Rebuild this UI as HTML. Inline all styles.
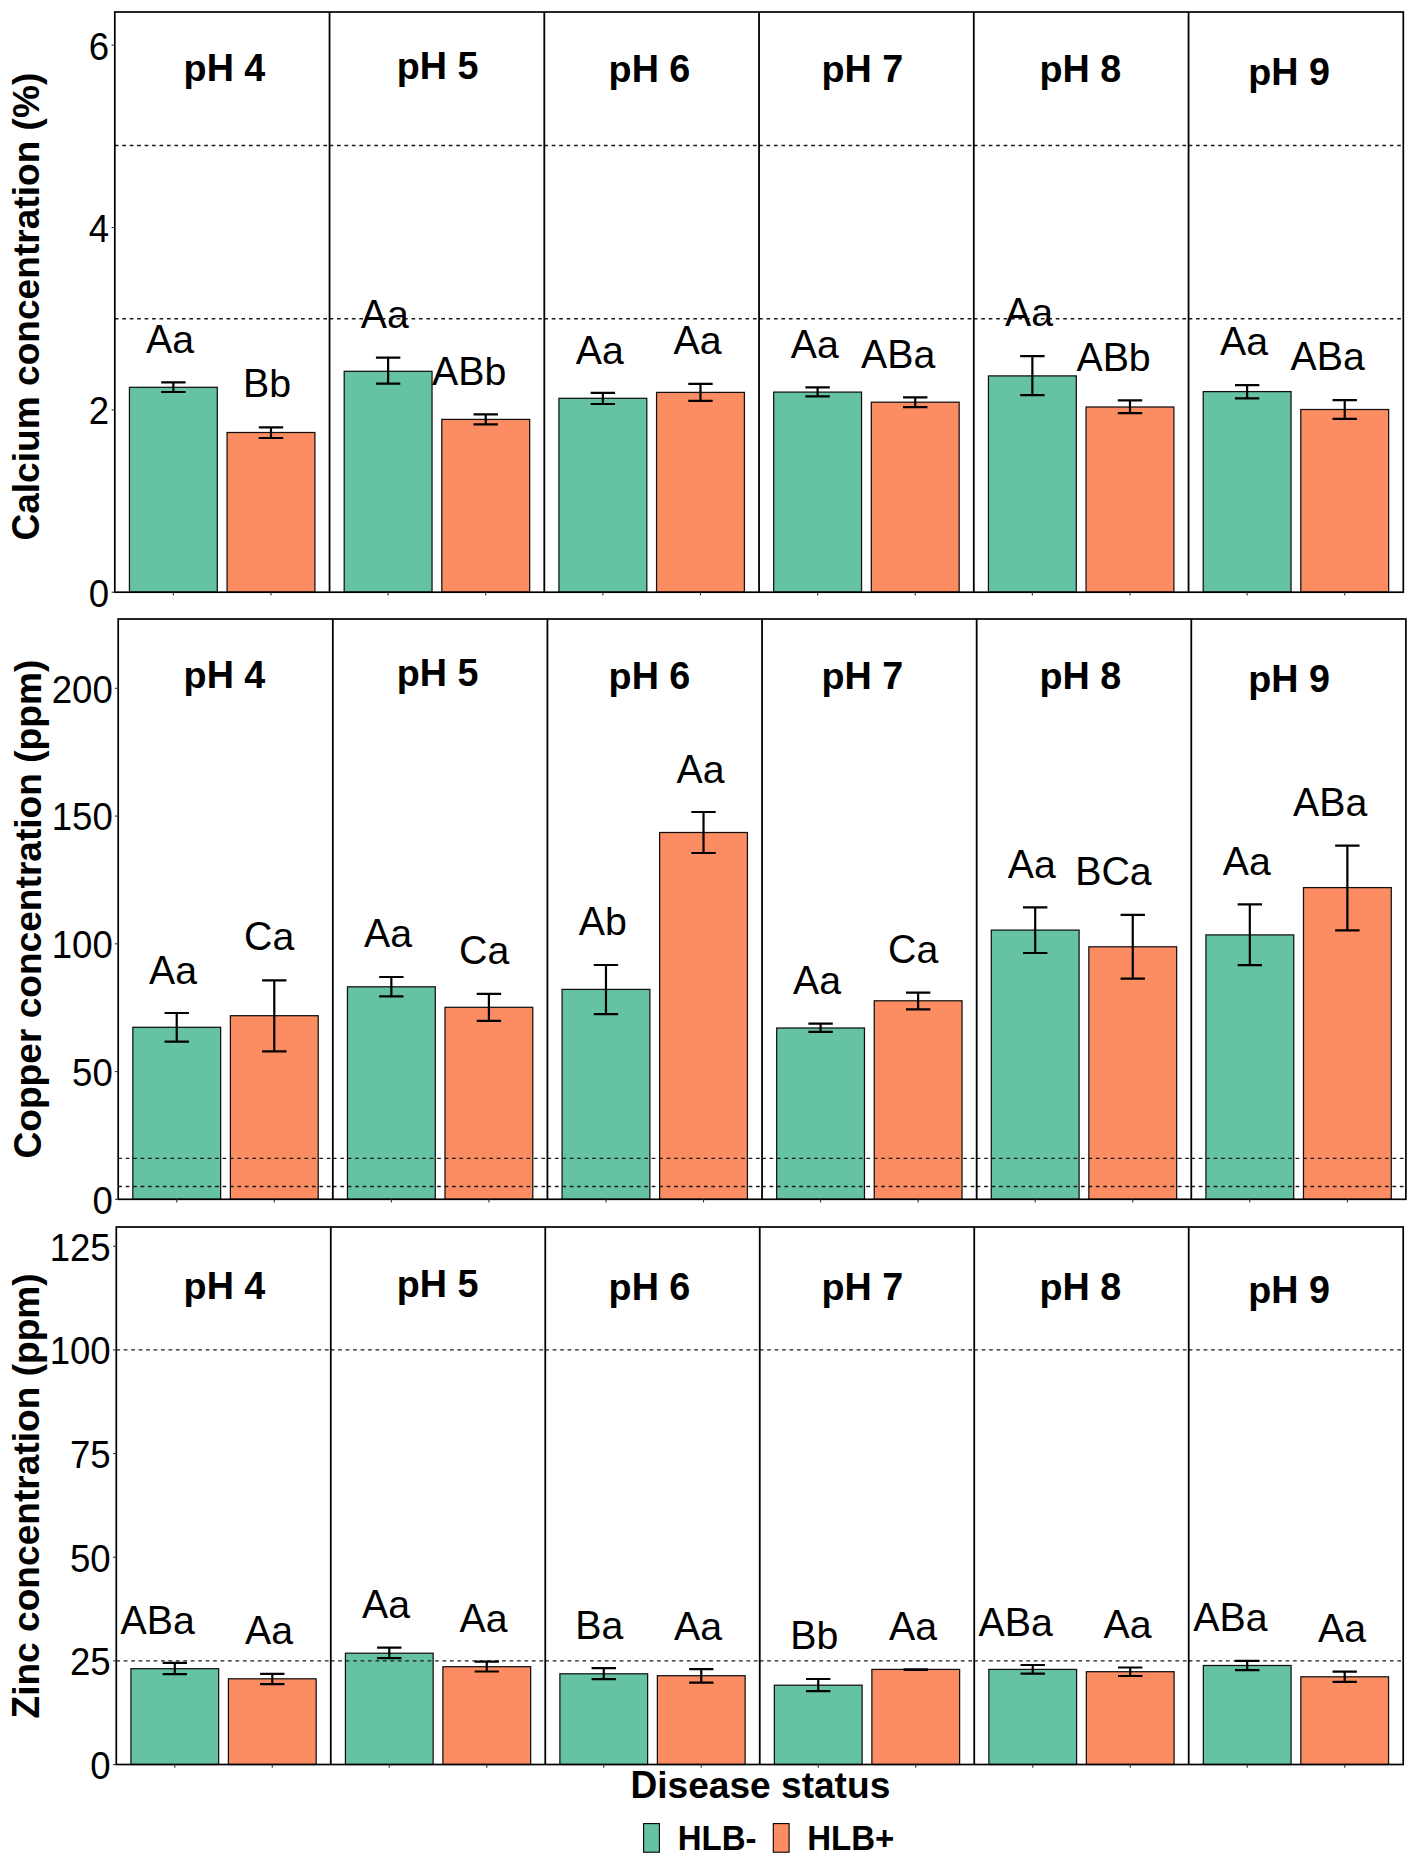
<!DOCTYPE html><html><head><meta charset="utf-8"><style>html,body{margin:0;padding:0;background:#fff;}svg{display:block;}text{font-family:"Liberation Sans",sans-serif;}</style></head><body>
<svg width="1417" height="1868" viewBox="0 0 1417 1868">
<rect width="1417" height="1868" fill="#fff"/>
<rect x="129.44" y="387.3" width="87.85" height="204.9" fill="#66C2A5" stroke="#111" stroke-width="1.25"/>
<rect x="227.06" y="432.5" width="87.85" height="159.7" fill="#FC8D62" stroke="#111" stroke-width="1.25"/>
<rect x="344.19" y="371.3" width="87.85" height="220.9" fill="#66C2A5" stroke="#111" stroke-width="1.25"/>
<rect x="441.81" y="419.4" width="87.85" height="172.8" fill="#FC8D62" stroke="#111" stroke-width="1.25"/>
<rect x="558.94" y="398.3" width="87.85" height="193.9" fill="#66C2A5" stroke="#111" stroke-width="1.25"/>
<rect x="656.56" y="392.4" width="87.85" height="199.8" fill="#FC8D62" stroke="#111" stroke-width="1.25"/>
<rect x="773.69" y="392.1" width="87.85" height="200.1" fill="#66C2A5" stroke="#111" stroke-width="1.25"/>
<rect x="871.31" y="402.2" width="87.85" height="190" fill="#FC8D62" stroke="#111" stroke-width="1.25"/>
<rect x="988.44" y="375.9" width="87.85" height="216.3" fill="#66C2A5" stroke="#111" stroke-width="1.25"/>
<rect x="1086.06" y="407" width="87.85" height="185.2" fill="#FC8D62" stroke="#111" stroke-width="1.25"/>
<rect x="1203.19" y="391.6" width="87.85" height="200.6" fill="#66C2A5" stroke="#111" stroke-width="1.25"/>
<rect x="1300.81" y="409.5" width="87.85" height="182.7" fill="#FC8D62" stroke="#111" stroke-width="1.25"/>
<line x1="114.8" y1="318.69" x2="329.55" y2="318.69" stroke="#1a1a1a" stroke-width="1.4" stroke-dasharray="3.7 3.75"/>
<line x1="329.55" y1="318.69" x2="544.3" y2="318.69" stroke="#1a1a1a" stroke-width="1.4" stroke-dasharray="3.7 3.75"/>
<line x1="544.3" y1="318.69" x2="759.05" y2="318.69" stroke="#1a1a1a" stroke-width="1.4" stroke-dasharray="3.7 3.75"/>
<line x1="759.05" y1="318.69" x2="973.8" y2="318.69" stroke="#1a1a1a" stroke-width="1.4" stroke-dasharray="3.7 3.75"/>
<line x1="973.8" y1="318.69" x2="1188.55" y2="318.69" stroke="#1a1a1a" stroke-width="1.4" stroke-dasharray="3.7 3.75"/>
<line x1="1188.55" y1="318.69" x2="1403.3" y2="318.69" stroke="#1a1a1a" stroke-width="1.4" stroke-dasharray="3.7 3.75"/>
<line x1="114.8" y1="145.47" x2="329.55" y2="145.47" stroke="#1a1a1a" stroke-width="1.4" stroke-dasharray="3.7 3.75"/>
<line x1="329.55" y1="145.47" x2="544.3" y2="145.47" stroke="#1a1a1a" stroke-width="1.4" stroke-dasharray="3.7 3.75"/>
<line x1="544.3" y1="145.47" x2="759.05" y2="145.47" stroke="#1a1a1a" stroke-width="1.4" stroke-dasharray="3.7 3.75"/>
<line x1="759.05" y1="145.47" x2="973.8" y2="145.47" stroke="#1a1a1a" stroke-width="1.4" stroke-dasharray="3.7 3.75"/>
<line x1="973.8" y1="145.47" x2="1188.55" y2="145.47" stroke="#1a1a1a" stroke-width="1.4" stroke-dasharray="3.7 3.75"/>
<line x1="1188.55" y1="145.47" x2="1403.3" y2="145.47" stroke="#1a1a1a" stroke-width="1.4" stroke-dasharray="3.7 3.75"/>
<path d="M161.17 382.4H185.57M161.17 392H185.57M173.37 382.4V392" stroke="#000" stroke-width="2.2" fill="none"/>
<path d="M258.78 427.4H283.18M258.78 438H283.18M270.98 427.4V438" stroke="#000" stroke-width="2.2" fill="none"/>
<path d="M375.92 357.6H400.32M375.92 383.7H400.32M388.12 357.6V383.7" stroke="#000" stroke-width="2.2" fill="none"/>
<path d="M473.53 414.3H497.93M473.53 424.4H497.93M485.73 414.3V424.4" stroke="#000" stroke-width="2.2" fill="none"/>
<path d="M590.67 392.8H615.07M590.67 404H615.07M602.87 392.8V404" stroke="#000" stroke-width="2.2" fill="none"/>
<path d="M688.28 383.8H712.68M688.28 400.9H712.68M700.48 383.8V400.9" stroke="#000" stroke-width="2.2" fill="none"/>
<path d="M805.42 387.4H829.82M805.42 396.3H829.82M817.62 387.4V396.3" stroke="#000" stroke-width="2.2" fill="none"/>
<path d="M903.03 397.3H927.43M903.03 407.1H927.43M915.23 397.3V407.1" stroke="#000" stroke-width="2.2" fill="none"/>
<path d="M1020.17 356.1H1044.57M1020.17 395.2H1044.57M1032.37 356.1V395.2" stroke="#000" stroke-width="2.2" fill="none"/>
<path d="M1117.78 400.3H1142.18M1117.78 413.1H1142.18M1129.98 400.3V413.1" stroke="#000" stroke-width="2.2" fill="none"/>
<path d="M1234.92 385.1H1259.32M1234.92 398.3H1259.32M1247.12 385.1V398.3" stroke="#000" stroke-width="2.2" fill="none"/>
<path d="M1332.53 400.1H1356.93M1332.53 418.8H1356.93M1344.73 400.1V418.8" stroke="#000" stroke-width="2.2" fill="none"/>
<rect x="114.8" y="12" width="1288.5" height="580.2" fill="none" stroke="#000" stroke-width="1.7"/>
<line x1="329.55" y1="12" x2="329.55" y2="592.2" stroke="#000" stroke-width="1.8"/>
<line x1="544.3" y1="12" x2="544.3" y2="592.2" stroke="#000" stroke-width="1.8"/>
<line x1="759.05" y1="12" x2="759.05" y2="592.2" stroke="#000" stroke-width="1.8"/>
<line x1="973.8" y1="12" x2="973.8" y2="592.2" stroke="#000" stroke-width="1.8"/>
<line x1="1188.55" y1="12" x2="1188.55" y2="592.2" stroke="#000" stroke-width="1.8"/>
<line x1="111.6" y1="592.2" x2="114.8" y2="592.2" stroke="#333" stroke-width="1.1"/>
<line x1="111.6" y1="409.86" x2="114.8" y2="409.86" stroke="#333" stroke-width="1.1"/>
<line x1="111.6" y1="227.52" x2="114.8" y2="227.52" stroke="#333" stroke-width="1.1"/>
<line x1="111.6" y1="45.18" x2="114.8" y2="45.18" stroke="#333" stroke-width="1.1"/>
<line x1="173.37" y1="592.2" x2="173.37" y2="595.4" stroke="#333" stroke-width="1.1"/>
<line x1="270.98" y1="592.2" x2="270.98" y2="595.4" stroke="#333" stroke-width="1.1"/>
<line x1="388.12" y1="592.2" x2="388.12" y2="595.4" stroke="#333" stroke-width="1.1"/>
<line x1="485.73" y1="592.2" x2="485.73" y2="595.4" stroke="#333" stroke-width="1.1"/>
<line x1="602.87" y1="592.2" x2="602.87" y2="595.4" stroke="#333" stroke-width="1.1"/>
<line x1="700.48" y1="592.2" x2="700.48" y2="595.4" stroke="#333" stroke-width="1.1"/>
<line x1="817.62" y1="592.2" x2="817.62" y2="595.4" stroke="#333" stroke-width="1.1"/>
<line x1="915.23" y1="592.2" x2="915.23" y2="595.4" stroke="#333" stroke-width="1.1"/>
<line x1="1032.37" y1="592.2" x2="1032.37" y2="595.4" stroke="#333" stroke-width="1.1"/>
<line x1="1129.98" y1="592.2" x2="1129.98" y2="595.4" stroke="#333" stroke-width="1.1"/>
<line x1="1247.12" y1="592.2" x2="1247.12" y2="595.4" stroke="#333" stroke-width="1.1"/>
<line x1="1344.73" y1="592.2" x2="1344.73" y2="595.4" stroke="#333" stroke-width="1.1"/>
<g fill="#000">
<g transform="translate(88.64 606.6)" font-size="36.6"><text transform="translate(0 0) scale(1 1.04)">0</text></g>
<g transform="translate(88.64 424.26)" font-size="36.6"><text transform="translate(0 0) scale(1 1.04)">2</text></g>
<g transform="translate(88.64 241.92)" font-size="36.6"><text transform="translate(0 0) scale(1 1.04)">4</text></g>
<g transform="translate(88.64 59.58)" font-size="36.6"><text transform="translate(0 0) scale(1 1.04)">6</text></g>
</g>
<g font-size="37.7" font-weight="bold" fill="#000">
<g transform="translate(183.61 81.1)" font-size="37.7" font-weight="bold"><text transform="translate(0 0) scale(1 0.98)">p</text><text transform="translate(23.03 0) scale(1 1.04)">H</text><text transform="translate(60.73 0) scale(1 1.04)">4</text></g>
<g transform="translate(396.81 79.2)" font-size="37.7" font-weight="bold"><text transform="translate(0 0) scale(1 0.98)">p</text><text transform="translate(23.03 0) scale(1 1.04)">H</text><text transform="translate(60.73 0) scale(1 1.04)">5</text></g>
<g transform="translate(608.61 82.3)" font-size="37.7" font-weight="bold"><text transform="translate(0 0) scale(1 0.98)">p</text><text transform="translate(23.03 0) scale(1 1.04)">H</text><text transform="translate(60.73 0) scale(1 1.04)">6</text></g>
<g transform="translate(821.51 82.3)" font-size="37.7" font-weight="bold"><text transform="translate(0 0) scale(1 0.98)">p</text><text transform="translate(23.03 0) scale(1 1.04)">H</text><text transform="translate(60.73 0) scale(1 1.04)">7</text></g>
<g transform="translate(1039.41 82.3)" font-size="37.7" font-weight="bold"><text transform="translate(0 0) scale(1 0.98)">p</text><text transform="translate(23.03 0) scale(1 1.04)">H</text><text transform="translate(60.73 0) scale(1 1.04)">8</text></g>
<g transform="translate(1248.21 85.2)" font-size="37.7" font-weight="bold"><text transform="translate(0 0) scale(1 0.98)">p</text><text transform="translate(23.03 0) scale(1 1.04)">H</text><text transform="translate(60.73 0) scale(1 1.04)">9</text></g>
</g>
<g font-size="39.3" fill="#000">
<g transform="translate(146.02 352.7)" font-size="39.3"><text transform="translate(0 0) scale(1 1.04)">A</text><text transform="translate(26.21 0) scale(1 0.98)">a</text></g>
<g transform="translate(242.98 397.2)" font-size="39.3"><text transform="translate(0 0) scale(1 1.04)">B</text><text transform="translate(26.21 0) scale(1 0.99)">b</text></g>
<g transform="translate(360.72 327.9)" font-size="39.3"><text transform="translate(0 0) scale(1 1.04)">A</text><text transform="translate(26.21 0) scale(1 0.98)">a</text></g>
<g transform="translate(432.12 385.4)" font-size="39.3"><text transform="translate(0 0) scale(1 1.04)">A</text><text transform="translate(26.21 0) scale(1 1.04)">B</text><text transform="translate(52.43 0) scale(1 0.99)">b</text></g>
<g transform="translate(575.72 363.5)" font-size="39.3"><text transform="translate(0 0) scale(1 1.04)">A</text><text transform="translate(26.21 0) scale(1 0.98)">a</text></g>
<g transform="translate(673.52 354.1)" font-size="39.3"><text transform="translate(0 0) scale(1 1.04)">A</text><text transform="translate(26.21 0) scale(1 0.98)">a</text></g>
<g transform="translate(790.72 358)" font-size="39.3"><text transform="translate(0 0) scale(1 1.04)">A</text><text transform="translate(26.21 0) scale(1 0.98)">a</text></g>
<g transform="translate(861.12 367.8)" font-size="39.3"><text transform="translate(0 0) scale(1 1.04)">A</text><text transform="translate(26.21 0) scale(1 1.04)">B</text><text transform="translate(52.43 0) scale(1 0.98)">a</text></g>
<g transform="translate(1005.02 326.4)" font-size="39.3"><text transform="translate(0 0) scale(1 1.04)">A</text><text transform="translate(26.21 0) scale(1 0.98)">a</text></g>
<g transform="translate(1076.42 370.6)" font-size="39.3"><text transform="translate(0 0) scale(1 1.04)">A</text><text transform="translate(26.21 0) scale(1 1.04)">B</text><text transform="translate(52.43 0) scale(1 0.99)">b</text></g>
<g transform="translate(1219.92 355.4)" font-size="39.3"><text transform="translate(0 0) scale(1 1.04)">A</text><text transform="translate(26.21 0) scale(1 0.98)">a</text></g>
<g transform="translate(1290.62 370.4)" font-size="39.3"><text transform="translate(0 0) scale(1 1.04)">A</text><text transform="translate(26.21 0) scale(1 1.04)">B</text><text transform="translate(52.43 0) scale(1 0.98)">a</text></g>
</g>
<g transform="translate(38.6 540.62) rotate(-90)" font-size="37.1" font-weight="bold"><text transform="translate(0 0) scale(1 1.04)">C</text><text transform="translate(26.79 0) scale(1 0.98)">a</text><text transform="translate(47.43 0) scale(1 0.99)">l</text><text transform="translate(57.73 0) scale(1 0.98)">c</text><text transform="translate(78.37 0) scale(1 0.98)">i</text><text transform="translate(88.67 0) scale(1 0.98)">u</text><text transform="translate(111.34 0) scale(1 0.98)">m</text><text transform="translate(154.63 0) scale(1 0.98)">c</text><text transform="translate(175.26 0) scale(1 0.98)">o</text><text transform="translate(197.93 0) scale(1 0.98)">n</text><text transform="translate(220.59 0) scale(1 0.98)">c</text><text transform="translate(241.22 0) scale(1 0.98)">e</text><text transform="translate(261.86 0) scale(1 0.98)">n</text><text transform="translate(284.52 0) scale(1 0.99)">t</text><text transform="translate(296.87 0) scale(1 0.98)">r</text><text transform="translate(311.31 0) scale(1 0.98)">a</text><text transform="translate(331.94 0) scale(1 0.99)">t</text><text transform="translate(344.3 0) scale(1 0.98)">i</text><text transform="translate(354.61 0) scale(1 0.98)">o</text><text transform="translate(377.27 0) scale(1 0.98)">n</text><text transform="translate(410.24 0) scale(1 1.0)">(</text><text transform="translate(422.59 0) scale(1 1.0)">%</text><text transform="translate(455.58 0) scale(1 1.0)">)</text></g>
<rect x="132.83" y="1027.3" width="87.8" height="172" fill="#66C2A5" stroke="#111" stroke-width="1.25"/>
<rect x="230.39" y="1015.7" width="87.8" height="183.6" fill="#FC8D62" stroke="#111" stroke-width="1.25"/>
<rect x="347.45" y="986.8" width="87.8" height="212.5" fill="#66C2A5" stroke="#111" stroke-width="1.25"/>
<rect x="445" y="1007.3" width="87.8" height="192" fill="#FC8D62" stroke="#111" stroke-width="1.25"/>
<rect x="562.07" y="989.4" width="87.8" height="209.9" fill="#66C2A5" stroke="#111" stroke-width="1.25"/>
<rect x="659.62" y="832.5" width="87.8" height="366.8" fill="#FC8D62" stroke="#111" stroke-width="1.25"/>
<rect x="776.68" y="1028" width="87.8" height="171.3" fill="#66C2A5" stroke="#111" stroke-width="1.25"/>
<rect x="874.24" y="1000.8" width="87.8" height="198.5" fill="#FC8D62" stroke="#111" stroke-width="1.25"/>
<rect x="991.3" y="930.1" width="87.8" height="269.2" fill="#66C2A5" stroke="#111" stroke-width="1.25"/>
<rect x="1088.85" y="946.8" width="87.8" height="252.5" fill="#FC8D62" stroke="#111" stroke-width="1.25"/>
<rect x="1205.92" y="934.9" width="87.8" height="264.4" fill="#66C2A5" stroke="#111" stroke-width="1.25"/>
<rect x="1303.47" y="887.6" width="87.8" height="311.7" fill="#FC8D62" stroke="#111" stroke-width="1.25"/>
<line x1="118.2" y1="1186.52" x2="332.82" y2="1186.52" stroke="#1a1a1a" stroke-width="1.4" stroke-dasharray="3.7 3.75"/>
<line x1="332.82" y1="1186.52" x2="547.43" y2="1186.52" stroke="#1a1a1a" stroke-width="1.4" stroke-dasharray="3.7 3.75"/>
<line x1="547.43" y1="1186.52" x2="762.05" y2="1186.52" stroke="#1a1a1a" stroke-width="1.4" stroke-dasharray="3.7 3.75"/>
<line x1="762.05" y1="1186.52" x2="976.67" y2="1186.52" stroke="#1a1a1a" stroke-width="1.4" stroke-dasharray="3.7 3.75"/>
<line x1="976.67" y1="1186.52" x2="1191.28" y2="1186.52" stroke="#1a1a1a" stroke-width="1.4" stroke-dasharray="3.7 3.75"/>
<line x1="1191.28" y1="1186.52" x2="1405.9" y2="1186.52" stroke="#1a1a1a" stroke-width="1.4" stroke-dasharray="3.7 3.75"/>
<line x1="118.2" y1="1158.42" x2="332.82" y2="1158.42" stroke="#1a1a1a" stroke-width="1.4" stroke-dasharray="3.7 3.75"/>
<line x1="332.82" y1="1158.42" x2="547.43" y2="1158.42" stroke="#1a1a1a" stroke-width="1.4" stroke-dasharray="3.7 3.75"/>
<line x1="547.43" y1="1158.42" x2="762.05" y2="1158.42" stroke="#1a1a1a" stroke-width="1.4" stroke-dasharray="3.7 3.75"/>
<line x1="762.05" y1="1158.42" x2="976.67" y2="1158.42" stroke="#1a1a1a" stroke-width="1.4" stroke-dasharray="3.7 3.75"/>
<line x1="976.67" y1="1158.42" x2="1191.28" y2="1158.42" stroke="#1a1a1a" stroke-width="1.4" stroke-dasharray="3.7 3.75"/>
<line x1="1191.28" y1="1158.42" x2="1405.9" y2="1158.42" stroke="#1a1a1a" stroke-width="1.4" stroke-dasharray="3.7 3.75"/>
<path d="M164.54 1013H188.93M164.54 1041.6H188.93M176.73 1013V1041.6" stroke="#000" stroke-width="2.2" fill="none"/>
<path d="M262.09 980.3H286.48M262.09 1051.4H286.48M274.28 980.3V1051.4" stroke="#000" stroke-width="2.2" fill="none"/>
<path d="M379.15 977H403.54M379.15 996.4H403.54M391.35 977V996.4" stroke="#000" stroke-width="2.2" fill="none"/>
<path d="M476.71 993.8H501.1M476.71 1020.8H501.1M488.9 993.8V1020.8" stroke="#000" stroke-width="2.2" fill="none"/>
<path d="M593.77 965H618.16M593.77 1014.2H618.16M605.97 965V1014.2" stroke="#000" stroke-width="2.2" fill="none"/>
<path d="M691.32 812H715.71M691.32 853H715.71M703.52 812V853" stroke="#000" stroke-width="2.2" fill="none"/>
<path d="M808.39 1023.6H832.78M808.39 1031.9H832.78M820.58 1023.6V1031.9" stroke="#000" stroke-width="2.2" fill="none"/>
<path d="M905.94 992.6H930.33M905.94 1009.4H930.33M918.13 992.6V1009.4" stroke="#000" stroke-width="2.2" fill="none"/>
<path d="M1023 907.3H1047.39M1023 953H1047.39M1035.2 907.3V953" stroke="#000" stroke-width="2.2" fill="none"/>
<path d="M1120.56 914.9H1144.95M1120.56 978.7H1144.95M1132.75 914.9V978.7" stroke="#000" stroke-width="2.2" fill="none"/>
<path d="M1237.62 904.4H1262.01M1237.62 965.2H1262.01M1249.82 904.4V965.2" stroke="#000" stroke-width="2.2" fill="none"/>
<path d="M1335.17 845.7H1359.56M1335.17 930.3H1359.56M1347.37 845.7V930.3" stroke="#000" stroke-width="2.2" fill="none"/>
<rect x="118.2" y="619" width="1287.7" height="580.3" fill="none" stroke="#000" stroke-width="1.7"/>
<line x1="332.82" y1="619" x2="332.82" y2="1199.3" stroke="#000" stroke-width="1.8"/>
<line x1="547.43" y1="619" x2="547.43" y2="1199.3" stroke="#000" stroke-width="1.8"/>
<line x1="762.05" y1="619" x2="762.05" y2="1199.3" stroke="#000" stroke-width="1.8"/>
<line x1="976.67" y1="619" x2="976.67" y2="1199.3" stroke="#000" stroke-width="1.8"/>
<line x1="1191.28" y1="619" x2="1191.28" y2="1199.3" stroke="#000" stroke-width="1.8"/>
<line x1="115" y1="1199.3" x2="118.2" y2="1199.3" stroke="#333" stroke-width="1.1"/>
<line x1="115" y1="1071.55" x2="118.2" y2="1071.55" stroke="#333" stroke-width="1.1"/>
<line x1="115" y1="943.8" x2="118.2" y2="943.8" stroke="#333" stroke-width="1.1"/>
<line x1="115" y1="816.05" x2="118.2" y2="816.05" stroke="#333" stroke-width="1.1"/>
<line x1="115" y1="688.3" x2="118.2" y2="688.3" stroke="#333" stroke-width="1.1"/>
<line x1="176.73" y1="1199.3" x2="176.73" y2="1202.5" stroke="#333" stroke-width="1.1"/>
<line x1="274.28" y1="1199.3" x2="274.28" y2="1202.5" stroke="#333" stroke-width="1.1"/>
<line x1="391.35" y1="1199.3" x2="391.35" y2="1202.5" stroke="#333" stroke-width="1.1"/>
<line x1="488.9" y1="1199.3" x2="488.9" y2="1202.5" stroke="#333" stroke-width="1.1"/>
<line x1="605.97" y1="1199.3" x2="605.97" y2="1202.5" stroke="#333" stroke-width="1.1"/>
<line x1="703.52" y1="1199.3" x2="703.52" y2="1202.5" stroke="#333" stroke-width="1.1"/>
<line x1="820.58" y1="1199.3" x2="820.58" y2="1202.5" stroke="#333" stroke-width="1.1"/>
<line x1="918.13" y1="1199.3" x2="918.13" y2="1202.5" stroke="#333" stroke-width="1.1"/>
<line x1="1035.2" y1="1199.3" x2="1035.2" y2="1202.5" stroke="#333" stroke-width="1.1"/>
<line x1="1132.75" y1="1199.3" x2="1132.75" y2="1202.5" stroke="#333" stroke-width="1.1"/>
<line x1="1249.82" y1="1199.3" x2="1249.82" y2="1202.5" stroke="#333" stroke-width="1.1"/>
<line x1="1347.37" y1="1199.3" x2="1347.37" y2="1202.5" stroke="#333" stroke-width="1.1"/>
<g fill="#000">
<g transform="translate(92.44 1213.7)" font-size="36.6"><text transform="translate(0 0) scale(1 1.04)">0</text></g>
<g transform="translate(72.09 1085.95)" font-size="36.6"><text transform="translate(0 0) scale(1 1.04)">5</text><text transform="translate(20.36 0) scale(1 1.04)">0</text></g>
<g transform="translate(51.73 958.2)" font-size="36.6"><text transform="translate(0 0) scale(1 1.04)">1</text><text transform="translate(20.36 0) scale(1 1.04)">0</text><text transform="translate(40.71 0) scale(1 1.04)">0</text></g>
<g transform="translate(51.73 830.45)" font-size="36.6"><text transform="translate(0 0) scale(1 1.04)">1</text><text transform="translate(20.36 0) scale(1 1.04)">5</text><text transform="translate(40.71 0) scale(1 1.04)">0</text></g>
<g transform="translate(51.73 702.7)" font-size="36.6"><text transform="translate(0 0) scale(1 1.04)">2</text><text transform="translate(20.36 0) scale(1 1.04)">0</text><text transform="translate(40.71 0) scale(1 1.04)">0</text></g>
</g>
<g font-size="37.7" font-weight="bold" fill="#000">
<g transform="translate(183.61 687.8)" font-size="37.7" font-weight="bold"><text transform="translate(0 0) scale(1 0.98)">p</text><text transform="translate(23.03 0) scale(1 1.04)">H</text><text transform="translate(60.73 0) scale(1 1.04)">4</text></g>
<g transform="translate(396.81 686)" font-size="37.7" font-weight="bold"><text transform="translate(0 0) scale(1 0.98)">p</text><text transform="translate(23.03 0) scale(1 1.04)">H</text><text transform="translate(60.73 0) scale(1 1.04)">5</text></g>
<g transform="translate(608.61 689)" font-size="37.7" font-weight="bold"><text transform="translate(0 0) scale(1 0.98)">p</text><text transform="translate(23.03 0) scale(1 1.04)">H</text><text transform="translate(60.73 0) scale(1 1.04)">6</text></g>
<g transform="translate(821.51 689)" font-size="37.7" font-weight="bold"><text transform="translate(0 0) scale(1 0.98)">p</text><text transform="translate(23.03 0) scale(1 1.04)">H</text><text transform="translate(60.73 0) scale(1 1.04)">7</text></g>
<g transform="translate(1039.41 689)" font-size="37.7" font-weight="bold"><text transform="translate(0 0) scale(1 0.98)">p</text><text transform="translate(23.03 0) scale(1 1.04)">H</text><text transform="translate(60.73 0) scale(1 1.04)">8</text></g>
<g transform="translate(1248.21 691.5)" font-size="37.7" font-weight="bold"><text transform="translate(0 0) scale(1 0.98)">p</text><text transform="translate(23.03 0) scale(1 1.04)">H</text><text transform="translate(60.73 0) scale(1 1.04)">9</text></g>
</g>
<g font-size="39.3" fill="#000">
<g transform="translate(148.92 983.6)" font-size="39.3"><text transform="translate(0 0) scale(1 1.04)">A</text><text transform="translate(26.21 0) scale(1 0.98)">a</text></g>
<g transform="translate(244.1 950.3)" font-size="39.3"><text transform="translate(0 0) scale(1 1.04)">C</text><text transform="translate(28.38 0) scale(1 0.98)">a</text></g>
<g transform="translate(363.92 947.3)" font-size="39.3"><text transform="translate(0 0) scale(1 1.04)">A</text><text transform="translate(26.21 0) scale(1 0.98)">a</text></g>
<g transform="translate(459.1 963.9)" font-size="39.3"><text transform="translate(0 0) scale(1 1.04)">C</text><text transform="translate(28.38 0) scale(1 0.98)">a</text></g>
<g transform="translate(578.72 935.1)" font-size="39.3"><text transform="translate(0 0) scale(1 1.04)">A</text><text transform="translate(26.21 0) scale(1 0.99)">b</text></g>
<g transform="translate(676.52 782.6)" font-size="39.3"><text transform="translate(0 0) scale(1 1.04)">A</text><text transform="translate(26.21 0) scale(1 0.98)">a</text></g>
<g transform="translate(792.92 994.4)" font-size="39.3"><text transform="translate(0 0) scale(1 1.04)">A</text><text transform="translate(26.21 0) scale(1 0.98)">a</text></g>
<g transform="translate(888.1 963.4)" font-size="39.3"><text transform="translate(0 0) scale(1 1.04)">C</text><text transform="translate(28.38 0) scale(1 0.98)">a</text></g>
<g transform="translate(1007.72 877.9)" font-size="39.3"><text transform="translate(0 0) scale(1 1.04)">A</text><text transform="translate(26.21 0) scale(1 0.98)">a</text></g>
<g transform="translate(1075.28 884.9)" font-size="39.3"><text transform="translate(0 0) scale(1 1.04)">B</text><text transform="translate(26.21 0) scale(1 1.04)">C</text><text transform="translate(54.59 0) scale(1 0.98)">a</text></g>
<g transform="translate(1222.72 874.5)" font-size="39.3"><text transform="translate(0 0) scale(1 1.04)">A</text><text transform="translate(26.21 0) scale(1 0.98)">a</text></g>
<g transform="translate(1293.12 816.3)" font-size="39.3"><text transform="translate(0 0) scale(1 1.04)">A</text><text transform="translate(26.21 0) scale(1 1.04)">B</text><text transform="translate(52.43 0) scale(1 0.98)">a</text></g>
</g>
<g transform="translate(40.5 1158.52) rotate(-90)" font-size="37.1" font-weight="bold"><text transform="translate(0 0) scale(1 1.04)">C</text><text transform="translate(26.79 0) scale(1 0.98)">o</text><text transform="translate(49.45 0) scale(1 0.98)">p</text><text transform="translate(72.12 0) scale(1 0.98)">p</text><text transform="translate(94.78 0) scale(1 0.98)">e</text><text transform="translate(115.41 0) scale(1 0.98)">r</text><text transform="translate(140.16 0) scale(1 0.98)">c</text><text transform="translate(160.79 0) scale(1 0.98)">o</text><text transform="translate(183.45 0) scale(1 0.98)">n</text><text transform="translate(206.12 0) scale(1 0.98)">c</text><text transform="translate(226.75 0) scale(1 0.98)">e</text><text transform="translate(247.38 0) scale(1 0.98)">n</text><text transform="translate(270.04 0) scale(1 0.99)">t</text><text transform="translate(282.4 0) scale(1 0.98)">r</text><text transform="translate(296.84 0) scale(1 0.98)">a</text><text transform="translate(317.47 0) scale(1 0.99)">t</text><text transform="translate(329.82 0) scale(1 0.98)">i</text><text transform="translate(340.13 0) scale(1 0.98)">o</text><text transform="translate(362.79 0) scale(1 0.98)">n</text><text transform="translate(395.76 0) scale(1 1.0)">(</text><text transform="translate(408.12 0) scale(1 0.98)">p</text><text transform="translate(430.78 0) scale(1 0.98)">p</text><text transform="translate(453.44 0) scale(1 0.98)">m</text><text transform="translate(486.43 0) scale(1 1.0)">)</text></g>
<rect x="130.92" y="1668.7" width="87.74" height="95.8" fill="#66C2A5" stroke="#111" stroke-width="1.25"/>
<rect x="228.42" y="1678.8" width="87.74" height="85.7" fill="#FC8D62" stroke="#111" stroke-width="1.25"/>
<rect x="345.41" y="1653.2" width="87.74" height="111.3" fill="#66C2A5" stroke="#111" stroke-width="1.25"/>
<rect x="442.9" y="1666.7" width="87.74" height="97.8" fill="#FC8D62" stroke="#111" stroke-width="1.25"/>
<rect x="559.89" y="1673.8" width="87.74" height="90.7" fill="#66C2A5" stroke="#111" stroke-width="1.25"/>
<rect x="657.38" y="1675.7" width="87.74" height="88.8" fill="#FC8D62" stroke="#111" stroke-width="1.25"/>
<rect x="774.37" y="1685.2" width="87.74" height="79.3" fill="#66C2A5" stroke="#111" stroke-width="1.25"/>
<rect x="871.87" y="1669.4" width="87.74" height="95.1" fill="#FC8D62" stroke="#111" stroke-width="1.25"/>
<rect x="988.86" y="1669.4" width="87.74" height="95.1" fill="#66C2A5" stroke="#111" stroke-width="1.25"/>
<rect x="1086.35" y="1671.7" width="87.74" height="92.8" fill="#FC8D62" stroke="#111" stroke-width="1.25"/>
<rect x="1203.34" y="1665.5" width="87.74" height="99" fill="#66C2A5" stroke="#111" stroke-width="1.25"/>
<rect x="1300.83" y="1676.8" width="87.74" height="87.7" fill="#FC8D62" stroke="#111" stroke-width="1.25"/>
<line x1="116.3" y1="1660.85" x2="330.78" y2="1660.85" stroke="#1a1a1a" stroke-width="1.4" stroke-dasharray="3.7 3.75"/>
<line x1="330.78" y1="1660.85" x2="545.27" y2="1660.85" stroke="#1a1a1a" stroke-width="1.4" stroke-dasharray="3.7 3.75"/>
<line x1="545.27" y1="1660.85" x2="759.75" y2="1660.85" stroke="#1a1a1a" stroke-width="1.4" stroke-dasharray="3.7 3.75"/>
<line x1="759.75" y1="1660.85" x2="974.23" y2="1660.85" stroke="#1a1a1a" stroke-width="1.4" stroke-dasharray="3.7 3.75"/>
<line x1="974.23" y1="1660.85" x2="1188.72" y2="1660.85" stroke="#1a1a1a" stroke-width="1.4" stroke-dasharray="3.7 3.75"/>
<line x1="1188.72" y1="1660.85" x2="1403.2" y2="1660.85" stroke="#1a1a1a" stroke-width="1.4" stroke-dasharray="3.7 3.75"/>
<line x1="116.3" y1="1349.9" x2="330.78" y2="1349.9" stroke="#1a1a1a" stroke-width="1.4" stroke-dasharray="3.7 3.75"/>
<line x1="330.78" y1="1349.9" x2="545.27" y2="1349.9" stroke="#1a1a1a" stroke-width="1.4" stroke-dasharray="3.7 3.75"/>
<line x1="545.27" y1="1349.9" x2="759.75" y2="1349.9" stroke="#1a1a1a" stroke-width="1.4" stroke-dasharray="3.7 3.75"/>
<line x1="759.75" y1="1349.9" x2="974.23" y2="1349.9" stroke="#1a1a1a" stroke-width="1.4" stroke-dasharray="3.7 3.75"/>
<line x1="974.23" y1="1349.9" x2="1188.72" y2="1349.9" stroke="#1a1a1a" stroke-width="1.4" stroke-dasharray="3.7 3.75"/>
<line x1="1188.72" y1="1349.9" x2="1403.2" y2="1349.9" stroke="#1a1a1a" stroke-width="1.4" stroke-dasharray="3.7 3.75"/>
<path d="M162.61 1662.9H186.98M162.61 1674.1H186.98M174.8 1662.9V1674.1" stroke="#000" stroke-width="2.2" fill="none"/>
<path d="M260.1 1673.8H284.47M260.1 1684.2H284.47M272.29 1673.8V1684.2" stroke="#000" stroke-width="2.2" fill="none"/>
<path d="M377.09 1647.7H401.47M377.09 1658.1H401.47M389.28 1647.7V1658.1" stroke="#000" stroke-width="2.2" fill="none"/>
<path d="M474.58 1661.7H498.96M474.58 1671.5H498.96M486.77 1661.7V1671.5" stroke="#000" stroke-width="2.2" fill="none"/>
<path d="M591.58 1668.2H615.95M591.58 1679.2H615.95M603.76 1668.2V1679.2" stroke="#000" stroke-width="2.2" fill="none"/>
<path d="M689.07 1669.1H713.44M689.07 1682.7H713.44M701.25 1669.1V1682.7" stroke="#000" stroke-width="2.2" fill="none"/>
<path d="M806.06 1679H830.43M806.06 1691.1H830.43M818.25 1679V1691.1" stroke="#000" stroke-width="2.2" fill="none"/>
<path d="M903.55 1669.4H927.92M903.55 1669.9H927.92M915.74 1669.4V1669.9" stroke="#000" stroke-width="2.2" fill="none"/>
<path d="M1020.54 1665H1044.92M1020.54 1673.7H1044.92M1032.73 1665V1673.7" stroke="#000" stroke-width="2.2" fill="none"/>
<path d="M1118.03 1667.5H1142.41M1118.03 1676H1142.41M1130.22 1667.5V1676" stroke="#000" stroke-width="2.2" fill="none"/>
<path d="M1235.03 1660.8H1259.4M1235.03 1670.1H1259.4M1247.21 1660.8V1670.1" stroke="#000" stroke-width="2.2" fill="none"/>
<path d="M1332.52 1671.7H1356.89M1332.52 1681.8H1356.89M1344.7 1671.7V1681.8" stroke="#000" stroke-width="2.2" fill="none"/>
<rect x="116.3" y="1227" width="1286.9" height="537.5" fill="none" stroke="#000" stroke-width="1.7"/>
<line x1="330.78" y1="1227" x2="330.78" y2="1764.5" stroke="#000" stroke-width="1.8"/>
<line x1="545.27" y1="1227" x2="545.27" y2="1764.5" stroke="#000" stroke-width="1.8"/>
<line x1="759.75" y1="1227" x2="759.75" y2="1764.5" stroke="#000" stroke-width="1.8"/>
<line x1="974.23" y1="1227" x2="974.23" y2="1764.5" stroke="#000" stroke-width="1.8"/>
<line x1="1188.72" y1="1227" x2="1188.72" y2="1764.5" stroke="#000" stroke-width="1.8"/>
<line x1="113.1" y1="1764.5" x2="116.3" y2="1764.5" stroke="#333" stroke-width="1.1"/>
<line x1="113.1" y1="1660.85" x2="116.3" y2="1660.85" stroke="#333" stroke-width="1.1"/>
<line x1="113.1" y1="1557.2" x2="116.3" y2="1557.2" stroke="#333" stroke-width="1.1"/>
<line x1="113.1" y1="1453.55" x2="116.3" y2="1453.55" stroke="#333" stroke-width="1.1"/>
<line x1="113.1" y1="1349.9" x2="116.3" y2="1349.9" stroke="#333" stroke-width="1.1"/>
<line x1="113.1" y1="1246.25" x2="116.3" y2="1246.25" stroke="#333" stroke-width="1.1"/>
<line x1="174.8" y1="1764.5" x2="174.8" y2="1767.7" stroke="#333" stroke-width="1.1"/>
<line x1="272.29" y1="1764.5" x2="272.29" y2="1767.7" stroke="#333" stroke-width="1.1"/>
<line x1="389.28" y1="1764.5" x2="389.28" y2="1767.7" stroke="#333" stroke-width="1.1"/>
<line x1="486.77" y1="1764.5" x2="486.77" y2="1767.7" stroke="#333" stroke-width="1.1"/>
<line x1="603.76" y1="1764.5" x2="603.76" y2="1767.7" stroke="#333" stroke-width="1.1"/>
<line x1="701.25" y1="1764.5" x2="701.25" y2="1767.7" stroke="#333" stroke-width="1.1"/>
<line x1="818.25" y1="1764.5" x2="818.25" y2="1767.7" stroke="#333" stroke-width="1.1"/>
<line x1="915.74" y1="1764.5" x2="915.74" y2="1767.7" stroke="#333" stroke-width="1.1"/>
<line x1="1032.73" y1="1764.5" x2="1032.73" y2="1767.7" stroke="#333" stroke-width="1.1"/>
<line x1="1130.22" y1="1764.5" x2="1130.22" y2="1767.7" stroke="#333" stroke-width="1.1"/>
<line x1="1247.21" y1="1764.5" x2="1247.21" y2="1767.7" stroke="#333" stroke-width="1.1"/>
<line x1="1344.7" y1="1764.5" x2="1344.7" y2="1767.7" stroke="#333" stroke-width="1.1"/>
<g fill="#000">
<g transform="translate(90.34 1778.9)" font-size="36.6"><text transform="translate(0 0) scale(1 1.04)">0</text></g>
<g transform="translate(69.99 1675.25)" font-size="36.6"><text transform="translate(0 0) scale(1 1.04)">2</text><text transform="translate(20.36 0) scale(1 1.04)">5</text></g>
<g transform="translate(69.99 1571.6)" font-size="36.6"><text transform="translate(0 0) scale(1 1.04)">5</text><text transform="translate(20.36 0) scale(1 1.04)">0</text></g>
<g transform="translate(69.99 1467.95)" font-size="36.6"><text transform="translate(0 0) scale(1 1.04)">7</text><text transform="translate(20.36 0) scale(1 1.04)">5</text></g>
<g transform="translate(49.63 1364.3)" font-size="36.6"><text transform="translate(0 0) scale(1 1.04)">1</text><text transform="translate(20.36 0) scale(1 1.04)">0</text><text transform="translate(40.71 0) scale(1 1.04)">0</text></g>
<g transform="translate(49.63 1260.65)" font-size="36.6"><text transform="translate(0 0) scale(1 1.04)">1</text><text transform="translate(20.36 0) scale(1 1.04)">2</text><text transform="translate(40.71 0) scale(1 1.04)">5</text></g>
</g>
<g font-size="37.7" font-weight="bold" fill="#000">
<g transform="translate(183.61 1298.9)" font-size="37.7" font-weight="bold"><text transform="translate(0 0) scale(1 0.98)">p</text><text transform="translate(23.03 0) scale(1 1.04)">H</text><text transform="translate(60.73 0) scale(1 1.04)">4</text></g>
<g transform="translate(396.81 1297)" font-size="37.7" font-weight="bold"><text transform="translate(0 0) scale(1 0.98)">p</text><text transform="translate(23.03 0) scale(1 1.04)">H</text><text transform="translate(60.73 0) scale(1 1.04)">5</text></g>
<g transform="translate(608.61 1300.2)" font-size="37.7" font-weight="bold"><text transform="translate(0 0) scale(1 0.98)">p</text><text transform="translate(23.03 0) scale(1 1.04)">H</text><text transform="translate(60.73 0) scale(1 1.04)">6</text></g>
<g transform="translate(821.51 1300.2)" font-size="37.7" font-weight="bold"><text transform="translate(0 0) scale(1 0.98)">p</text><text transform="translate(23.03 0) scale(1 1.04)">H</text><text transform="translate(60.73 0) scale(1 1.04)">7</text></g>
<g transform="translate(1039.41 1300.2)" font-size="37.7" font-weight="bold"><text transform="translate(0 0) scale(1 0.98)">p</text><text transform="translate(23.03 0) scale(1 1.04)">H</text><text transform="translate(60.73 0) scale(1 1.04)">8</text></g>
<g transform="translate(1248.21 1302.6)" font-size="37.7" font-weight="bold"><text transform="translate(0 0) scale(1 0.98)">p</text><text transform="translate(23.03 0) scale(1 1.04)">H</text><text transform="translate(60.73 0) scale(1 1.04)">9</text></g>
</g>
<g font-size="39.3" fill="#000">
<g transform="translate(120.62 1633.5)" font-size="39.3"><text transform="translate(0 0) scale(1 1.04)">A</text><text transform="translate(26.21 0) scale(1 1.04)">B</text><text transform="translate(52.43 0) scale(1 0.98)">a</text></g>
<g transform="translate(245.12 1643.9)" font-size="39.3"><text transform="translate(0 0) scale(1 1.04)">A</text><text transform="translate(26.21 0) scale(1 0.98)">a</text></g>
<g transform="translate(361.92 1618)" font-size="39.3"><text transform="translate(0 0) scale(1 1.04)">A</text><text transform="translate(26.21 0) scale(1 0.98)">a</text></g>
<g transform="translate(459.52 1631.5)" font-size="39.3"><text transform="translate(0 0) scale(1 1.04)">A</text><text transform="translate(26.21 0) scale(1 0.98)">a</text></g>
<g transform="translate(575.18 1639)" font-size="39.3"><text transform="translate(0 0) scale(1 1.04)">B</text><text transform="translate(26.21 0) scale(1 0.98)">a</text></g>
<g transform="translate(674.12 1639.8)" font-size="39.3"><text transform="translate(0 0) scale(1 1.04)">A</text><text transform="translate(26.21 0) scale(1 0.98)">a</text></g>
<g transform="translate(790.28 1649.3)" font-size="39.3"><text transform="translate(0 0) scale(1 1.04)">B</text><text transform="translate(26.21 0) scale(1 0.99)">b</text></g>
<g transform="translate(889.02 1640)" font-size="39.3"><text transform="translate(0 0) scale(1 1.04)">A</text><text transform="translate(26.21 0) scale(1 0.98)">a</text></g>
<g transform="translate(978.62 1636.2)" font-size="39.3"><text transform="translate(0 0) scale(1 1.04)">A</text><text transform="translate(26.21 0) scale(1 1.04)">B</text><text transform="translate(52.43 0) scale(1 0.98)">a</text></g>
<g transform="translate(1103.52 1638.1)" font-size="39.3"><text transform="translate(0 0) scale(1 1.04)">A</text><text transform="translate(26.21 0) scale(1 0.98)">a</text></g>
<g transform="translate(1193.32 1631.1)" font-size="39.3"><text transform="translate(0 0) scale(1 1.04)">A</text><text transform="translate(26.21 0) scale(1 1.04)">B</text><text transform="translate(52.43 0) scale(1 0.98)">a</text></g>
<g transform="translate(1318.02 1642)" font-size="39.3"><text transform="translate(0 0) scale(1 1.04)">A</text><text transform="translate(26.21 0) scale(1 0.98)">a</text></g>
</g>
<g transform="translate(38.9 1718.51) rotate(-90)" font-size="37.1" font-weight="bold"><text transform="translate(0 0) scale(1 1.04)">Z</text><text transform="translate(22.66 0) scale(1 0.98)">i</text><text transform="translate(32.97 0) scale(1 0.98)">n</text><text transform="translate(55.63 0) scale(1 0.98)">c</text><text transform="translate(86.57 0) scale(1 0.98)">c</text><text transform="translate(107.21 0) scale(1 0.98)">o</text><text transform="translate(129.87 0) scale(1 0.98)">n</text><text transform="translate(152.53 0) scale(1 0.98)">c</text><text transform="translate(173.16 0) scale(1 0.98)">e</text><text transform="translate(193.8 0) scale(1 0.98)">n</text><text transform="translate(216.46 0) scale(1 0.99)">t</text><text transform="translate(228.81 0) scale(1 0.98)">r</text><text transform="translate(243.25 0) scale(1 0.98)">a</text><text transform="translate(263.88 0) scale(1 0.99)">t</text><text transform="translate(276.24 0) scale(1 0.98)">i</text><text transform="translate(286.55 0) scale(1 0.98)">o</text><text transform="translate(309.21 0) scale(1 0.98)">n</text><text transform="translate(342.18 0) scale(1 1.0)">(</text><text transform="translate(354.53 0) scale(1 0.98)">p</text><text transform="translate(377.2 0) scale(1 0.98)">p</text><text transform="translate(399.86 0) scale(1 0.98)">m</text><text transform="translate(432.85 0) scale(1 1.0)">)</text></g>
<g transform="translate(630.42 1797.9)" font-size="37.1" font-weight="bold"><text transform="translate(0 0) scale(1 1.04)">D</text><text transform="translate(26.79 0) scale(1 0.98)">i</text><text transform="translate(37.1 0) scale(1 0.98)">s</text><text transform="translate(57.73 0) scale(1 0.98)">e</text><text transform="translate(78.37 0) scale(1 0.98)">a</text><text transform="translate(99 0) scale(1 0.98)">s</text><text transform="translate(119.63 0) scale(1 0.98)">e</text><text transform="translate(150.57 0) scale(1 0.98)">s</text><text transform="translate(171.21 0) scale(1 0.99)">t</text><text transform="translate(183.56 0) scale(1 0.98)">a</text><text transform="translate(204.19 0) scale(1 0.99)">t</text><text transform="translate(216.55 0) scale(1 0.98)">u</text><text transform="translate(239.21 0) scale(1 0.98)">s</text></g>
<rect x="643.6" y="1823.6" width="15.8" height="28.6" fill="#66C2A5" stroke="#000" stroke-width="1.1"/>
<rect x="773.3" y="1823.6" width="15.8" height="28.6" fill="#FC8D62" stroke="#000" stroke-width="1.1"/>
<g transform="translate(677.69 1850.1)" font-size="33" font-weight="bold"><text transform="translate(0 0) scale(1 1.04)">H</text><text transform="translate(23.83 0) scale(1 1.04)">L</text><text transform="translate(43.99 0) scale(1 1.04)">B</text><text transform="translate(67.82 0) scale(1 1.0)">-</text></g>
<g transform="translate(807.19 1850.1)" font-size="33" font-weight="bold"><text transform="translate(0 0) scale(1 1.04)">H</text><text transform="translate(23.83 0) scale(1 1.04)">L</text><text transform="translate(43.99 0) scale(1 1.04)">B</text><text transform="translate(67.82 0) scale(1 1.0)">+</text></g>
</svg></body></html>
